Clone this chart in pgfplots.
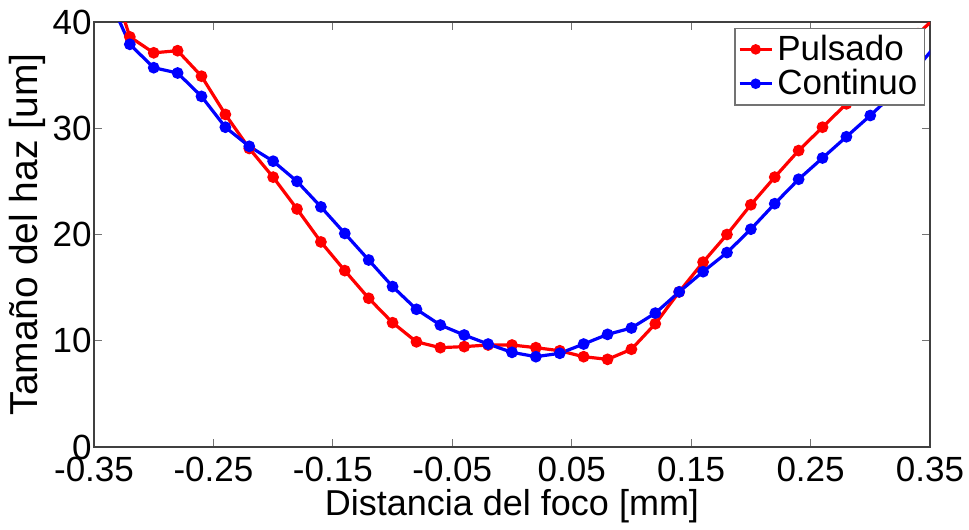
\documentclass[border=0pt]{standalone}
\usepackage{fontspec}
\setmainfont{Liberation Sans}
\usepackage{pgfplots}
\pgfplotsset{compat=1.18}
\begin{document}
\begin{tikzpicture}
\begin{axis}[
  width=418pt, height=212.5pt, scale only axis,
  xmin=-0.35, xmax=0.35, ymin=0, ymax=40,
  xtick={-0.35,-0.25,-0.15,-0.05,0.05,0.15,0.25,0.35},
  xticklabels={-0.35,-0.25,-0.15,-0.05,0.05,0.15,0.25,0.35},
  ytick={0,10,20,30,40},
  tick align=inside, major tick length=4pt,
  tick style={black!55, line width=0.6pt},
  axis line style={black!75, line width=0.7pt},
  ticklabel style={font=\fontsize{17.5}{19}\selectfont, inner sep=1pt},
  xticklabel style={yshift=-4pt},
  /pgf/number format/assume math mode=true,
  xlabel={Distancia del foco [mm]},
  ylabel={Tamaño del haz [um]},
  xlabel style={font=\fontsize{18}{20}\selectfont, yshift=1pt},
  ylabel style={font=\fontsize{19.5}{21}\selectfont, yshift=-1pt},
  legend style={at={(1,1)}, anchor=north east, xshift=-2.5pt, yshift=-2.8pt,
    font=\fontsize{17.5}{19}\selectfont,
    draw=black!55, line width=0.6pt, inner sep=1.5pt, row sep=-1pt},
  legend cell align=left,
  legend image code/.code={\draw[#1, line width=1.6pt] (0cm,0cm) -- (16pt,0cm); \fill[#1] (8pt,0cm) circle (1.8pt);},
  clip=true,
]
\addplot[red, line width=1.6pt, mark=*, mark size=2.1pt] coordinates {
(-0.34,45.6) (-0.32,38.6) (-0.30,37.1) (-0.28,37.3) (-0.26,34.9) (-0.24,31.3)
(-0.22,28.1) (-0.20,25.4) (-0.18,22.4) (-0.16,19.3) (-0.14,16.6) (-0.12,14.0)
(-0.10,11.7) (-0.08,9.9) (-0.06,9.35) (-0.04,9.45) (-0.02,9.6) (0.00,9.6)
(0.02,9.35) (0.04,9.06) (0.06,8.5) (0.08,8.25) (0.10,9.2) (0.12,11.6)
(0.14,14.6) (0.16,17.4) (0.18,20.0) (0.20,22.8) (0.22,25.4) (0.24,27.9)
(0.26,30.1) (0.28,32.3) (0.30,34.5) (0.32,36.6) (0.34,38.9) (0.36,41.0)
};
\addlegendentry{Pulsado}
\addplot[blue, line width=1.6pt, mark=*, mark size=2.1pt] coordinates {
(-0.34,42.9) (-0.32,37.9) (-0.30,35.7) (-0.28,35.2) (-0.26,33.0) (-0.24,30.1)
(-0.22,28.3) (-0.20,26.9) (-0.18,25.0) (-0.16,22.6) (-0.14,20.1) (-0.12,17.6)
(-0.10,15.1) (-0.08,12.96) (-0.06,11.48) (-0.04,10.54) (-0.02,9.69) (0.00,8.91)
(0.02,8.5) (0.04,8.82) (0.06,9.69) (0.08,10.6) (0.10,11.2) (0.12,12.6)
(0.14,14.6) (0.16,16.5) (0.18,18.3) (0.20,20.5) (0.22,22.9) (0.24,25.2)
(0.26,27.2) (0.28,29.2) (0.30,31.2) (0.32,33.3) (0.34,35.8) (0.36,38.5)
};
\addlegendentry{Continuo}
\end{axis}
\path (current axis.south west) ++(-47pt,-39pt) coordinate (bl);
\path (current axis.north east) ++(19.5pt,11pt) coordinate (tr);
\path (bl) rectangle (tr);
\end{tikzpicture}
\end{document}
